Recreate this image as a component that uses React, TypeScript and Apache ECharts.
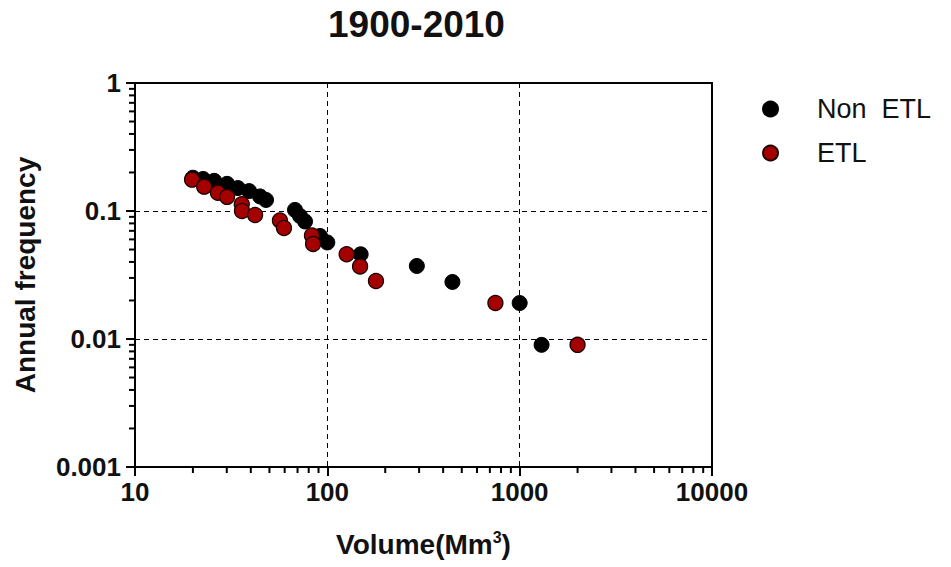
import React, { useEffect, useRef } from "react";
import * as echarts from "echarts";

// Volume (Mm³) vs annual frequency, 1900-2010
const nonEtlVolume = [20, 22.6, 25.8, 30.1, 34.3, 39.2, 44.7, 48, 67.9, 72.1, 76.6, 91.6, 100, 149, 292, 447, 1000, 1300];
const nonEtlFreq = [0.182, 0.178, 0.172, 0.163, 0.151, 0.143, 0.130, 0.122, 0.102, 0.0914, 0.0828, 0.0638, 0.0568, 0.0459, 0.0372, 0.0279, 0.0191, 0.009];

const etlVolume = [19.8, 22.9, 27.0, 30.1, 35.9, 36.0, 42.1, 56.7, 59.5, 83.2, 84.3, 126, 148, 179, 748, 2000];
const etlFreq = [0.176, 0.155, 0.139, 0.129, 0.113, 0.100, 0.093, 0.0843, 0.0736, 0.0644, 0.0553, 0.0459, 0.0369, 0.0284, 0.0191, 0.009];

const xTickLabels = ["10", "100", "1000", "10000"];
const yTickLabels = ["0.001", "0.01", "0.1", "1"];

const xMinorTicks = [20, 30, 40, 50, 60, 70, 80, 90, 200, 300, 400, 500, 600, 700, 800, 900, 2000, 3000, 4000, 5000, 6000, 7000, 8000, 9000];
const yMinorTicks = [0.002, 0.003, 0.004, 0.005, 0.006, 0.007, 0.008, 0.009, 0.02, 0.03, 0.04, 0.05, 0.06, 0.07, 0.08, 0.09, 0.2, 0.3, 0.4, 0.5, 0.6, 0.7, 0.8, 0.9];

const FONT = "Liberation Sans, Arial, sans-serif";
const INK = "#111";

function pickLabel(labels: string[], v: number): string {
  const target = Math.log10(v);
  let best = labels[0];
  let bestD = Infinity;
  for (const l of labels) {
    const d = Math.abs(Math.log10(parseFloat(l)) - target);
    if (d < bestD) {
      bestD = d;
      best = l;
    }
  }
  return best;
}

export default function App() {
  const ref = useRef<HTMLDivElement>(null);

  useEffect(() => {
    if (!ref.current) return;
    const chart = echarts.init(ref.current, undefined, { renderer: "svg" });

    const dashed = { show: true, lineStyle: { color: "#000", width: 1, type: [5, 4] as any } };

    chart.setOption({
      animation: false,
      backgroundColor: "#fff",
      title: {
        text: "1900-2010",
        left: 323,
        top: 1,
        textStyle: { fontFamily: FONT, fontSize: 37, fontWeight: "bold", color: INK },
      },
      legend: {
        orient: "vertical",
        left: 757,
        top: 90,
        itemWidth: 15,
        itemHeight: 15,
        itemGap: 16,
        icon: "circle",
        textStyle: { fontFamily: FONT, fontSize: 27, color: INK, lineHeight: 28, padding: [0, 0, 0, 34] },
        data: ["Non  ETL", "ETL"],
      },
      grid: {
        left: 135,
        right: 239,
        top: 83,
        bottom: 100,
        show: true,
        borderColor: "#000",
        borderWidth: 2,
        backgroundColor: "transparent",
      },
      xAxis: {
        type: "log",
        logBase: 10,
        min: 10,
        max: 10000,
        name: "Volume(Mm{sup|3})",
        nameLocation: "middle",
        nameGap: 62,
        nameTextStyle: {
          fontFamily: FONT,
          fontSize: 28,
          fontWeight: "bold",
          color: INK,
          rich: {
            sup: { fontFamily: FONT, fontSize: 16, fontWeight: "bold", color: INK, verticalAlign: "top", padding: [0, 0, 14, 0] },
          },
        },
        axisLine: { show: true, lineStyle: { color: "#000", width: 2 } },
        axisTick: { show: true, inside: false, length: 9, lineStyle: { color: "#000", width: 2 } },
        axisLabel: {
          fontFamily: FONT,
          fontSize: 26,
          fontWeight: "bold",
          color: INK,
          margin: 12,
          formatter: (v: number) => pickLabel(xTickLabels, v),
        },
        splitLine: dashed,
      },
      yAxis: {
        type: "log",
        logBase: 10,
        min: 0.001,
        max: 1,
        name: "Annual frequency",
        nameLocation: "middle",
        nameRotate: 90,
        nameGap: 96,
        nameTextStyle: { fontFamily: FONT, fontSize: 28, fontWeight: "bold", color: INK },
        axisLine: { show: true, lineStyle: { color: "#000", width: 2 } },
        axisTick: { show: true, inside: false, length: 9, lineStyle: { color: "#000", width: 2 } },
        axisLabel: {
          fontFamily: FONT,
          fontSize: 26,
          fontWeight: "bold",
          color: INK,
          margin: 14,
          formatter: (v: number) => pickLabel(yTickLabels, v),
        },
        splitLine: dashed,
      },
      series: [
        {
          name: "Non  ETL",
          type: "scatter",
          symbol: "circle",
          symbolSize: 15,
          itemStyle: { color: "#000", borderColor: "#000", borderWidth: 1, opacity: 1 },
          data: nonEtlVolume.map((v, i) => [v, nonEtlFreq[i]]),
          z: 3,
        },
        {
          name: "ETL",
          type: "scatter",
          symbol: "circle",
          symbolSize: 15,
          itemStyle: { color: "#a50000", borderColor: "#1a0000", borderWidth: 1.3, opacity: 1 },
          data: etlVolume.map((v, i) => [v, etlFreq[i]]),
          z: 4,
        },
      ],
    });

    // Minor ticks at 2..9 × 10^k, positioned through the axes' log scales
    const xAxisY = chart.convertToPixel({ yAxisIndex: 0 }, 0.001) as number;
    const yAxisX = chart.convertToPixel({ xAxisIndex: 0 }, 10) as number;
    const minorStyle = { stroke: "#000", lineWidth: 2 };
    const minorMarks: any[] = [];
    xMinorTicks.forEach((v) => {
      const px = chart.convertToPixel({ xAxisIndex: 0 }, v) as number;
      minorMarks.push({ type: "line", silent: true, shape: { x1: px, y1: xAxisY, x2: px, y2: xAxisY + 6 }, style: minorStyle });
    });
    yMinorTicks.forEach((v) => {
      const py = chart.convertToPixel({ yAxisIndex: 0 }, v) as number;
      minorMarks.push({ type: "line", silent: true, shape: { x1: yAxisX - 6, y1: py, x2: yAxisX, y2: py }, style: minorStyle });
    });
    chart.setOption({ graphic: { elements: minorMarks } });

    return () => chart.dispose();
  }, []);

  return <div ref={ref} style={{ width: 951, height: 567, position: "absolute", left: 0, top: 0 }} />;
}
